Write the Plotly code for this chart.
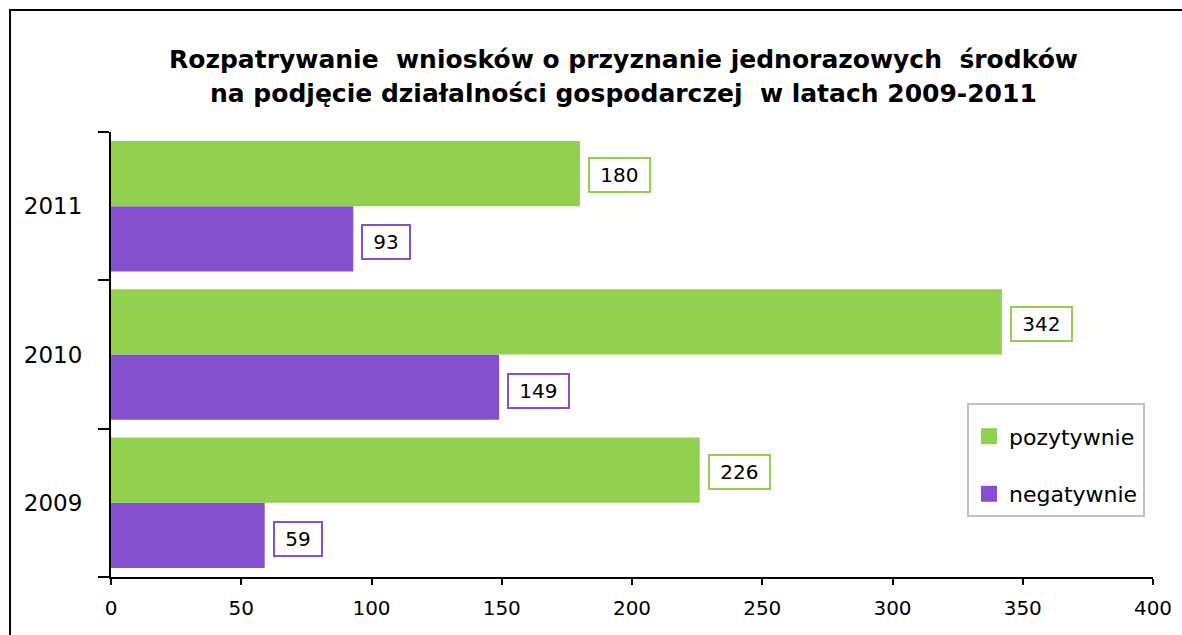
import plotly.graph_objects as go

years = ["2009", "2010", "2011"]
pozytywnie = [226, 342, 180]
negatywnie = [59, 149, 93]
x_ticks = [0, 50, 100, 150, 200, 250, 300, 350, 400]
title_lines = ["Rozpatrywanie  wniosków o przyznanie jednorazowych  środków",
               "na podjęcie działalności gospodarczej  w latach 2009-2011"]

GREEN = "#92D050"
PURPLE = "#8450D0"
FONT = "DejaVu Sans"

fig = go.Figure()
fig.add_trace(go.Bar(y=years, x=negatywnie, name="negatywnie", orientation="h",
                     marker=dict(color=PURPLE, line=dict(width=0)), showlegend=False))
fig.add_trace(go.Bar(y=years, x=pozytywnie, name="pozytywnie", orientation="h",
                     marker=dict(color=GREEN, line=dict(width=0)), showlegend=False))
# legend entries with larger square swatches
fig.add_trace(go.Scatter(x=[None], y=[None], mode="markers", name="pozytywnie",
                         marker=dict(symbol="square", size=16, color=GREEN), legendgroup="p"))
fig.add_trace(go.Scatter(x=[None], y=[None], mode="markers", name="negatywnie",
                         marker=dict(symbol="square", size=16, color=PURPLE), legendgroup="n"))

ann = []
for i, v in enumerate(pozytywnie):
    ann.append(dict(x=v, y=i, xref="x", yref="y", text="&nbsp;%d&nbsp;" % v, showarrow=False,
                    xanchor="left", yanchor="middle", xshift=8, yshift=31,
                    bordercolor=GREEN, borderwidth=2, borderpad=4, bgcolor="white",
                    font=dict(family=FONT, size=20, color="black")))
for i, v in enumerate(negatywnie):
    ann.append(dict(x=v, y=i, xref="x", yref="y", text="&nbsp;%d&nbsp;" % v, showarrow=False,
                    xanchor="left", yanchor="middle", xshift=8, yshift=-36,
                    bordercolor=PURPLE, borderwidth=2, borderpad=4, bgcolor="white",
                    font=dict(family=FONT, size=20, color="black")))
for line, ypos in zip(title_lines, [1.1618, 1.0876]):
    ann.append(dict(x=0.4914, y=ypos, xref="paper", yref="paper", text="<b>%s</b>" % line,
                    showarrow=False, xanchor="center", yanchor="middle",
                    font=dict(family="DejaVu Sans", size=25, color="black")))

fig.update_layout(
    width=1182, height=635,
    margin=dict(l=111, r=29, t=132, b=58, autoexpand=False),
    paper_bgcolor="white", plot_bgcolor="white",
    barmode="group", bargap=0.12, bargroupgap=0,
    xaxis=dict(type="linear", range=[0, 400], tickvals=x_ticks, ticktext=[str(t) for t in x_ticks],
               showgrid=False, zeroline=False, showline=True, linecolor="black", linewidth=2,
               ticks="outside", ticklen=6, tickwidth=2, tickcolor="black", ticklabelstandoff=6,
               automargin=False,
               tickfont=dict(family=FONT, size=20, color="black"), fixedrange=True),
    yaxis=dict(type="category", categoryorder="array", categoryarray=years,
               range=[-0.5, len(years) - 0.5],
               showgrid=False, zeroline=False, showline=True, linecolor="black", linewidth=2,
               ticks="outside", tickson="boundaries", ticklen=11, tickwidth=2, tickcolor="black",
               ticklabelstandoff=22, automargin=False,
               tickfont=dict(family=FONT, size=23, color="black"), fixedrange=True),
    legend=dict(x=0.8215, y=0.391, xanchor="left", yanchor="top",
                bordercolor="#BFBFBF", borderwidth=2, bgcolor="white",
                traceorder="grouped", tracegroupgap=26,
                title=dict(text="&nbsp;", font=dict(size=8)),
                font=dict(family=FONT, size=22, color="black")),
    annotations=ann,
    shapes=[dict(type="rect", xref="paper", yref="paper",
                 x0=-0.0969, x1=1.05, y0=-0.25, y1=1.274,
                 line=dict(color="black", width=2), layer="below")],
)

fig.write_html("out.html", config={"displayModeBar": False},
               post_script="document.body.style.margin='0';")
